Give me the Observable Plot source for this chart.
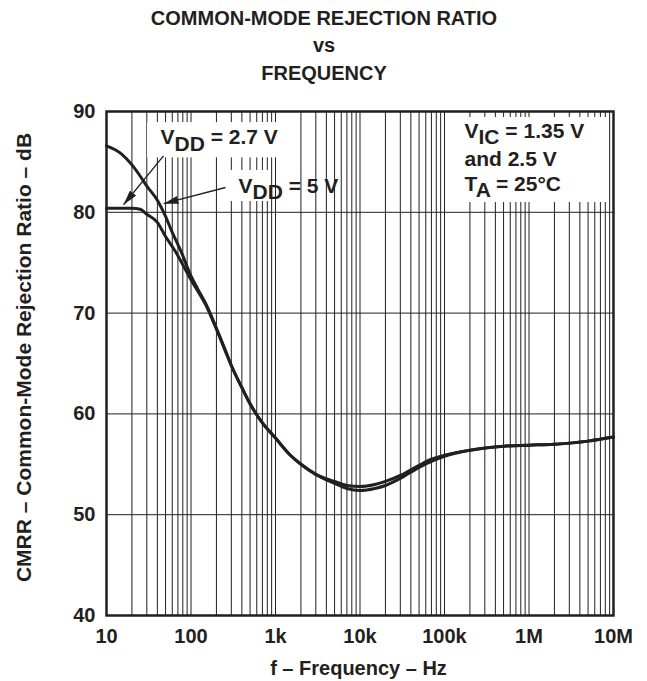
<!DOCTYPE html>
<html>
<head>
<meta charset="utf-8">
<script src="https://cdn.jsdelivr.net/npm/d3@7"></script>
<script src="https://cdn.jsdelivr.net/npm/@observablehq/plot@0.6"></script>
<style>
  html, body { margin: 0; padding: 0; background: #fff; }
  #chart { width: 647px; height: 681px; }
</style>
</head>
<body>
<div id="chart"></div>
<script>
// ---- Data ----
const freq27 = [10, 15, 20, 25, 30, 40, 50, 60, 70, 80, 90, 100, 120, 150, 200, 250, 300, 400, 500, 700, 1000, 1500, 2000, 3000, 5000, 7000, 10000, 15000, 20000, 30000, 50000, 70000, 100000, 200000, 500000, 1000000, 2000000, 5000000, 10000000];
const cmrr27 = [80.4, 80.4, 80.4, 80.3, 79.8, 79.0, 77.6, 76.6, 75.7, 74.8, 74.0, 73.3, 72.2, 70.8, 68.4, 66.4, 64.8, 62.6, 61.0, 59.1, 57.6, 55.9, 55.0, 54.0, 53.1, 52.6, 52.4, 52.6, 52.9, 53.6, 54.7, 55.3, 55.8, 56.4, 56.8, 56.9, 57.0, 57.3, 57.7];
const freq5 = [10, 15, 20, 25, 30, 40, 50, 60, 70, 80, 90, 100, 120, 150, 200, 250, 300, 400, 500, 700, 1000, 1500, 2000, 3000, 5000, 7000, 10000, 15000, 20000, 30000, 50000, 70000, 100000, 200000, 500000, 1000000, 2000000, 5000000, 10000000];
const cmrr5 = [86.6, 85.8, 84.7, 83.6, 82.6, 81.2, 79.6, 78.0, 76.8, 75.7, 74.6, 73.7, 72.4, 70.9, 68.5, 66.5, 64.8, 62.6, 61.0, 59.1, 57.6, 55.9, 55.0, 54.0, 53.3, 52.9, 52.8, 53.0, 53.3, 53.9, 54.9, 55.5, 55.9, 56.4, 56.8, 56.9, 57.0, 57.3, 57.7];

const xTicks = [10, 100, 1000, 10000, 100000, 1000000, 10000000];
const xTickLabels = ["10", "100", "1k", "10k", "100k", "1M", "10M"];
const yTicks = [40, 50, 60, 70, 80, 90];

const titleLines = ["COMMON-MODE REJECTION RATIO", "vs", "FREQUENCY"];
const xLabel = "f – Frequency – Hz";
const yLabel = "CMRR – Common-Mode Rejection Ratio – dB";

// annotation boxes / texts / arrows, in data units (Hz, dB)
const boxF1 = [30.6, 270, 187000];
const boxF2 = [1210, 885, 8500000];
const boxDb1 = [88.9, 84.15, 89.4];
const boxDb2 = [85.4, 81.07, 80.97];

const noteText = ["V_{DD} = 2.7 V", "V_{DD} = 5 V", "V_{IC} = 1.35 V", "and 2.5 V", "T_{A} = 25°C"];
const noteF = [43.6, 365, 172500, 172500, 172500];
const noteDb = [86.73, 81.96, 87.42, 84.64, 82.16];

const arrowF1 = [47.3, 256];
const arrowDb1 = [85.6, 82.46];
const arrowF2 = [15.9, 47.3];
const arrowDb2 = [80.75, 80.85];

// ---- Build tables ----
const ink = "#231f20";
const s27 = freq27.map((f, i) => ({f, v: cmrr27[i]}));
const s5 = freq5.map((f, i) => ({f, v: cmrr5[i]}));
const gridF = [];
for (let d = 10; d < 1e7; d *= 10) for (let k = 1; k <= 9; k++) gridF.push(k * d);
gridF.push(1e7);
const boxes = boxF1.map((f, i) => ({x1: f, x2: boxF2[i], y1: boxDb1[i], y2: boxDb2[i]}));
const notes = noteText.map((t, i) => ({t, f: noteF[i], v: noteDb[i]}));
const arrows = arrowF1.map((f, i) => ({x1: f, y1: arrowDb1[i], x2: arrowF2[i], y2: arrowDb2[i]}));
const tickLabel = new Map(xTicks.map((t, i) => [t, xTickLabels[i]]));

const chart = Plot.plot({
  width: 647,
  height: 681,
  marginLeft: 106,
  marginRight: 34,
  marginTop: 111,
  marginBottom: 66,
  style: {fontFamily: "'Liberation Sans', Arial, Helvetica, sans-serif", fontSize: "20px", fontWeight: "bold", color: ink, background: "#fff", overflow: "visible"},
  x: {type: "log", domain: [10, 1e7], ticks: xTicks, tickFormat: d => tickLabel.get(d), tickSize: 0, tickPadding: 13, label: null},
  y: {domain: [40, 90], ticks: yTicks, tickSize: 0, tickPadding: 11, label: null},
  marks: [
    Plot.ruleX(gridF, {stroke: ink, strokeWidth: 1}),
    Plot.ruleY(yTicks, {stroke: ink, strokeWidth: 1}),
    Plot.rect(boxes, {x1: "x1", x2: "x2", y1: "y1", y2: "y2", fill: "white"}),
    Plot.frame({stroke: ink, strokeWidth: 2.5}),
    Plot.line(s27, {x: "f", y: "v", stroke: ink, strokeWidth: 3, curve: "monotone-x"}),
    Plot.line(s5, {x: "f", y: "v", stroke: ink, strokeWidth: 3, curve: "monotone-x"}),
    Plot.link(arrows, {x1: "x1", y1: "y1", x2: "x2", y2: "y2", stroke: ink, strokeWidth: 1.3}),
    Plot.text(notes, {x: "f", y: "v", text: "t", textAnchor: "start", lineAnchor: "bottom", fontSize: 21, fill: ink}),
    Plot.text(titleLines, {text: d => d, frameAnchor: "top", textAnchor: "middle", dx: -36, lineAnchor: "bottom", fill: ink, fontSize: 20}),
    Plot.text([yLabel], {text: d => d, frameAnchor: "left", textAnchor: "middle", rotate: -90, dx: -82.5, dy: -6, lineAnchor: "middle", fill: ink, fontSize: 21}),
    Plot.text([xLabel], {text: d => d, frameAnchor: "bottom", textAnchor: "middle", dx: -1.5, dy: 59, lineAnchor: "bottom", fill: ink, fontSize: 20})
  ]
});

document.getElementById("chart").appendChild(chart);

// position title lines (three separate baselines)
const titleDy = [-87, -60, -32];
d3.select(chart).selectAll("text").each(function () {
  const idx = titleLines.indexOf(this.textContent);
  if (idx >= 0) {
    const cur = this.getAttribute("transform") || "";
    this.setAttribute("transform", cur + ` translate(0,${titleDy[idx]})`);
  }
});

// subscripts
d3.select(chart).selectAll("text").each(function () {
  const t = this.textContent;
  if (!t.includes("_{")) return;
  const parts = t.split(/(_\{[^}]*\})/).filter(p => p.length);
  const node = d3.select(this);
  node.text(null);
  let sub = false;
  parts.forEach(p => {
    if (p.startsWith("_{")) {
      node.append("tspan").attr("dy", "0.3em").text(p.slice(2, -1));
      sub = true;
    } else {
      const ts = node.append("tspan").text(p);
      if (sub) { ts.attr("dy", "-0.3em"); sub = false; }
    }
  });
});

// filled arrowheads
const defs = d3.select(chart).insert("defs", ":first-child");
defs.append("marker")
  .attr("id", "ahead")
  .attr("viewBox", "0 0 15 8")
  .attr("refX", 15).attr("refY", 4)
  .attr("markerWidth", 15).attr("markerHeight", 8)
  .attr("markerUnits", "userSpaceOnUse")
  .attr("orient", "auto")
  .append("path").attr("d", "M0,0L15,4L0,8Z").attr("fill", ink);
d3.select(chart).selectAll("g[aria-label=link] path").attr("marker-end", "url(#ahead)");
</script>
</body>
</html>
